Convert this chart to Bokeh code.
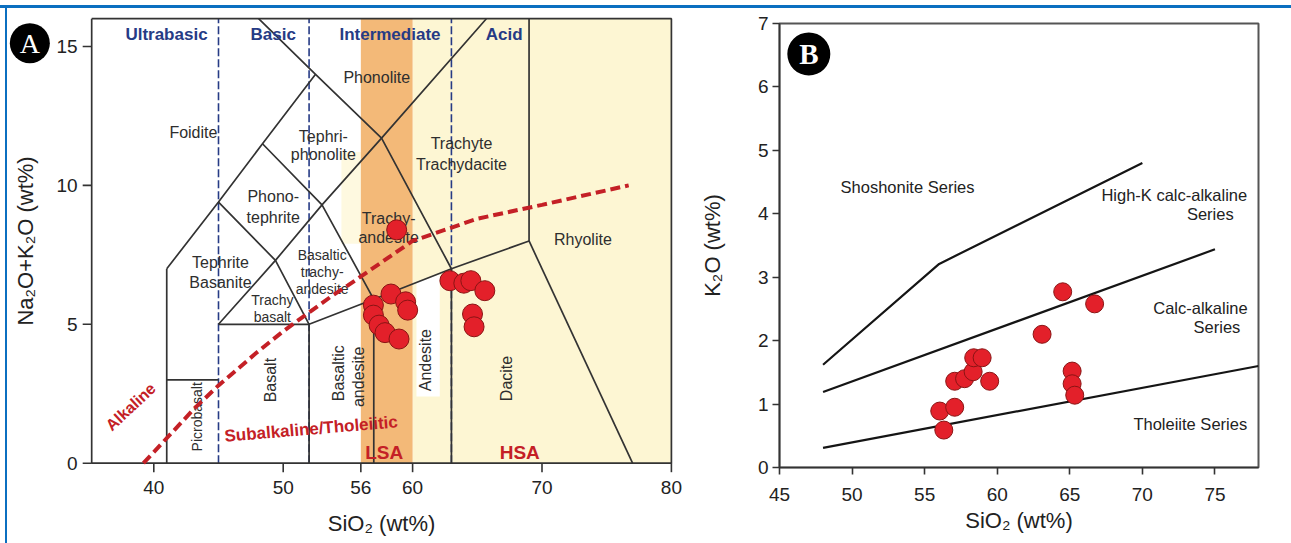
import math
from bokeh.plotting import figure
from bokeh.models import Range1d, FixedTicker, Div
from bokeh.layouts import row, column
from bokeh.embed import file_html
from bokeh.resources import INLINE
from bokeh.core.properties import value

SANS = "Liberation Sans"
SERIF = "Liberation Serif"
BLUE = "#0B6FC0"
NAVY = "#263B85"
DARKRED = "#C42026"
INK = "#2e2e2e"
AXIS = "#333333"

# ---------------- Panel A : TAS diagram ----------------
a_sio2 = [58.77, 62.88, 63.96, 64.50, 65.58, 64.63, 64.75, 58.33, 59.46, 59.62, 56.97, 56.97, 57.41, 57.87, 58.95]
a_alk = [8.40, 6.57, 6.48, 6.57, 6.21, 5.37, 4.91, 6.09, 5.81, 5.51, 5.69, 5.33, 4.97, 4.70, 4.47]

a_xmin, a_xmax = 35.2, 80
a_ymin, a_ymax = 0, 16
a_xticks = [40, 50, 56, 60, 70, 80]
a_xtick_labels = ["40", "50", "56", "60", "70", "80"]
a_yticks = [0, 5, 10, 15]
a_ytick_labels = ["0", "5", "10", "15"]

tas_bx = [[41, 41], [41, 45], [45, 52], [52, 52], [57, 57], [63, 63],
          [52, 57, 63, 69], [69, 77], [69, 69],
          [41, 45, 48.4, 52.5], [45, 49.4, 53, 57.6, 65.7],
          [45, 49.4, 52], [48.4, 53, 57], [48.1, 52.5, 57.6, 63]]
tas_by = [[0, 7], [3, 3], [5, 5], [0, 5], [0, 5.9], [0, 7],
          [5, 5.9, 7, 8], [8, 0], [8, 16],
          [7, 9.4, 11.5, 14], [5, 7.3, 9.3, 11.7, 16],
          [9.4, 7.3, 5], [11.5, 9.3, 5.9], [16, 14, 11.7, 7]]

silica_div = [45, 52, 63]

ib_x = [39.2, 40, 43.2, 45, 48, 50, 53.7, 55, 60, 65, 70, 76.7]
ib_y = [0, 0.4, 2.0, 2.8, 4.0, 4.75, 6.0, 6.4, 8.0, 8.8, 9.3, 10.0]

lsa_band = (56, 60)
hsa_band = (60, 80)

reg_text = ["Foidite", "Tephri-", "phonolite", "Phono-", "tephrite", "Tephrite", "Basanite",
            "Phonolite", "Trachyte", "Trachydacite", "Trachy-", "andesite", "Rhyolite"]
reg_x = [43.06, 53.1, 53.1, 49.23, 49.23, 45.15, 45.15, 57.23, 63.78, 63.78, 58.15, 58.15, 73.16]
reg_y = [11.89, 11.75, 11.10, 9.59, 8.86, 7.24, 6.52, 13.88, 11.50, 10.77, 8.82, 8.11, 8.04]

small_text = ["Basaltic", "trachy-", "andesite", "Trachy", "basalt"]
small_x = [53.01, 53.01, 53.01, 49.16, 49.16]
small_y = [7.50, 6.88, 6.27, 5.87, 5.26]

vert_text = ["Picrobasalt", "Basalt", "Basaltic", "andesite", "Andesite", "Dacite"]
vert_x = [43.35, 49.0, 54.27, 55.81, 61.03, 67.25]
vert_y = [1.67, 2.99, 3.24, 3.11, 3.71, 3.05]

class_text = ["Ultrabasic", "Basic", "Intermediate", "Acid"]
class_x = [40.98, 49.23, 58.25, 67.08]
class_y = [15.42, 15.42, 15.42, 15.42]

# ---------------- Panel B : K2O vs SiO2 ----------------
b_sio2 = [56.04, 57.07, 56.32, 57.07, 57.75, 58.34, 58.38, 58.96, 59.48, 63.09, 64.51, 66.71, 65.16, 65.16, 65.34]
b_k2o = [0.89, 0.95, 0.59, 1.36, 1.40, 1.51, 1.73, 1.73, 1.36, 2.10, 2.77, 2.58, 1.52, 1.32, 1.14]

b_xticks = [45, 50, 55, 60, 65, 70, 75]
b_yticks = [0, 1, 2, 3, 4, 5, 6, 7]

shosh_x = [48, 56, 70]
shosh_y = [1.62, 3.21, 4.80]
hik_x = [48, 75]
hik_y = [1.19, 3.44]
thol_x = [48, 78]
thol_y = [0.31, 1.60]

ser_text = ["Shoshonite Series", "High-K calc-alkaline", "Series", "Calc-alkaline", "Series", "Tholeiite Series"]
ser_x = [53.82, 72.2, 74.68, 74.0, 75.14, 73.3]
ser_y = [4.42, 4.29, 4.00, 2.52, 2.22, 0.68]


def style_axis(ax, tick_out, lab_std, ax_std):
    ax.axis_line_color = AXIS
    ax.axis_line_width = 1.6
    ax.major_tick_line_color = AXIS
    ax.major_tick_line_width = 1.6
    ax.major_tick_in = 0
    ax.major_tick_out = tick_out
    ax.minor_tick_line_color = None
    ax.major_label_text_font = SANS
    ax.major_label_text_font_size = "19px"
    ax.major_label_text_color = "#222222"
    ax.axis_label_text_font = SANS
    ax.axis_label_text_font_size = "22px"
    ax.axis_label_text_font_style = "normal"
    ax.axis_label_text_color = "#222222"
    ax.major_label_standoff = lab_std
    ax.axis_label_standoff = ax_std


def put_text(p, xs, ys, texts, size, color, bold=False, angle=0.0, font=SANS,
             align="center", x_offset=0):
    p.text(x=xs, y=ys, text=texts, text_font=value(font), text_font_size=size,
           text_color=color, text_font_style="bold" if bold else "normal",
           text_align=align, text_baseline="middle", angle=angle, x_offset=x_offset)


# ---- figure A: the frame covers the whole canvas, the axes are drawn at SiO2=35.2 / alkali=0 ----
A_PX = 12.94   # px per wt% SiO2
A_PY = 27.78   # px per wt% Na2O+K2O
pA = figure(width=680, height=535, title=None,
            x_range=Range1d(40 - 146.3 / A_PX, 40 + 533.7 / A_PX),
            y_range=Range1d(-80.3 / A_PY, 454.7 / A_PY),
            x_axis_location=None, y_axis_location=None,
            output_backend="svg", toolbar_location=None,
            min_border_left=0, min_border_right=0, min_border_top=0, min_border_bottom=0)
pA.frame_align = False
pA.grid.visible = False
pA.outline_line_color = None

pA.quad(left=[hsa_band[0]], right=[hsa_band[1]], bottom=[a_ymin], top=[a_ymax], fill_color="#FDF6D3", line_color=None)
pA.quad(left=[54.5], right=[56], bottom=[7.9], top=[11.2], fill_color="#FEF9E0", line_color=None)
pA.quad(left=[lsa_band[0]], right=[lsa_band[1]], bottom=[a_ymin], top=[a_ymax], fill_color="#F3B978", line_color=None)
pA.patch([60.3, 62.1, 62.1, 60.3], [2.4, 2.4, 6.8, 6.5], fill_color="white", line_color=None)

for sx in silica_div:
    pA.line([sx, sx], [a_ymin, a_ymax], line_color=NAVY, line_width=1.6, line_dash="8 3")

pA.multi_line(tas_bx, tas_by, line_color="#333333", line_width=1.7)

# axes box
pA.line([a_xmin, a_xmin, a_xmax, a_xmax, a_xmin], [a_ymax, a_ymin, a_ymin, a_ymax, a_ymax],
        line_color=AXIS, line_width=1.7)
# ticks
pA.ray(x=[a_xmin] * len(a_yticks), y=a_yticks, length=9, length_units="screen", angle=math.pi,
       line_color=AXIS, line_width=1.6)
pA.ray(x=a_xticks, y=[a_ymin] * len(a_xticks), length=9, length_units="screen", angle=-math.pi / 2,
       line_color=AXIS, line_width=1.6)
# tick labels and axis titles
put_text(pA, [a_xmin] * len(a_yticks), a_yticks, a_ytick_labels, "19px", "#222222",
         align="right", x_offset=-14)
put_text(pA, a_xticks, [a_ymin - 24.5 / A_PY] * len(a_xticks), a_xtick_labels, "19px", "#222222")
put_text(pA, [a_xmin], [(a_ymin + a_ymax) / 2], ["Na\u2082O+K\u2082O (wt%)"], "22px", "#222222",
         angle=math.pi / 2, x_offset=-66)
put_text(pA, [(a_xmin + a_xmax) / 2], [a_ymin - 60.5 / A_PY], ["SiO\u2082 (wt%)"], "22px", "#222222")

put_text(pA, class_x, class_y, class_text, "17px", NAVY, bold=True)
put_text(pA, reg_x, reg_y, reg_text, "16px", INK)
put_text(pA, small_x, small_y, small_text, "14px", INK)
put_text(pA, vert_x[:1], vert_y[:1], vert_text[:1], "14px", INK, angle=math.pi / 2)
put_text(pA, vert_x[1:], vert_y[1:], vert_text[1:], "16px", INK, angle=math.pi / 2)

pA.line(ib_x, ib_y, line_color=DARKRED, line_width=4, line_dash="10 5")

put_text(pA, [38.21], [2.03], ["Alkaline"], "16px", DARKRED, bold=True, angle=math.radians(43))
put_text(pA, [52.16], [1.23], ["Subalkaline/Tholeiitic"], "17px", DARKRED, bold=True, angle=math.radians(4.8))
put_text(pA, [57.81, 68.28], [0.40, 0.40], ["LSA", "HSA"], "19px", DARKRED, bold=True)

pA.scatter(a_sio2, a_alk, size=20, fill_color="#E3202A", line_color="#8A1414", line_width=1)

# panel badge "A"
pA.scatter([30.42], [15.12], size=40, fill_color="black", line_color=None)
put_text(pA, [30.42], [15.12], ["A"], "28px", "white", font=SERIF)

# ---- figure B ----
pB = figure(width=604, height=535, x_range=Range1d(45, 78), y_range=Range1d(0, 7),
            output_backend="svg", toolbar_location=None,
            min_border_left=92, min_border_right=33, min_border_top=15, min_border_bottom=76)
pB.frame_align = False
pB.grid.visible = False
pB.outline_line_color = "#555555"
pB.outline_line_width = 2
style_axis(pB.xaxis[0], 7, 13, 4)
style_axis(pB.yaxis[0], 7, 4, 30)
pB.xaxis[0].ticker = FixedTicker(ticks=b_xticks)
pB.yaxis[0].ticker = FixedTicker(ticks=b_yticks)
pB.xaxis[0].axis_label = "SiO\u2082 (wt%)"
pB.yaxis[0].axis_label = "K\u2082O (wt%)"

for xs, ys in ((shosh_x, shosh_y), (hik_x, hik_y), (thol_x, thol_y)):
    pB.line(xs, ys, line_color="#151515", line_width=2.2)

put_text(pB, ser_x, ser_y, ser_text, "16.5px", "#222222")

pB.scatter(b_sio2, b_k2o, size=18, fill_color="#E3202A", line_color="#8A1414", line_width=1)

pB.scatter([47.02], [6.52], size=43, fill_color="black", line_color=None)
put_text(pB, [47.02], [6.52], ["B"], "29px", "white", bold=True, font=SERIF)

# ---- page frame (blue rule at top and left) ----
top_gap = Div(width=1291, height=5, margin=0)
top_bar = Div(width=1291, height=3, margin=0, styles={"background-color": BLUE})
left_gap = Div(width=5, height=535, margin=0)
left_bar = Div(width=2, height=535, margin=0, styles={"background-color": BLUE})

layout = column(top_gap, top_bar, row(left_gap, left_bar, pA, pB, spacing=0), spacing=0)

open("out.html", "w").write(file_html(layout, INLINE))
